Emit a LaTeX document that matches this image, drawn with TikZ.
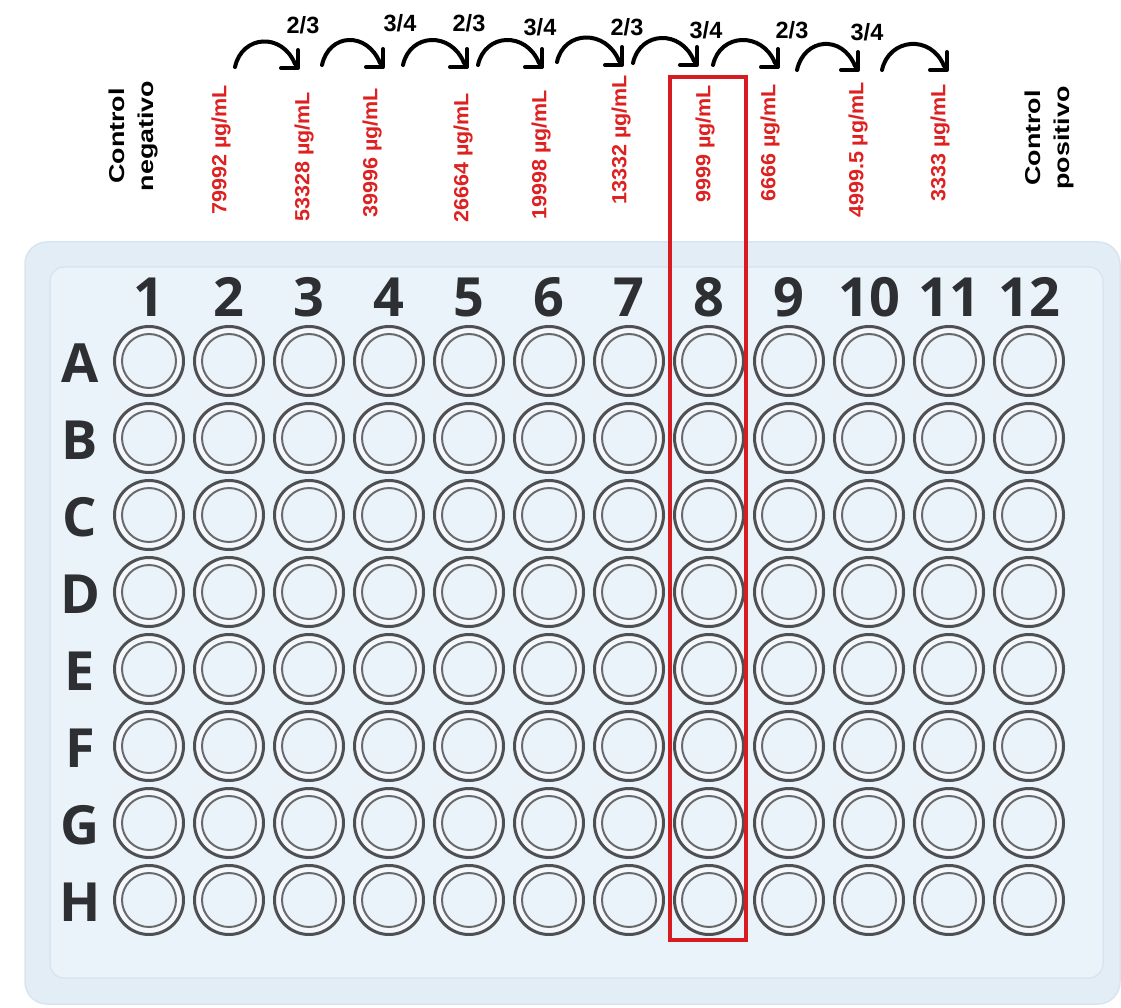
\documentclass[tikz,border=0pt]{standalone}
\usepackage{fontspec}
\setmainfont{Liberation Sans}
\newfontfamily\platefont{Open Sans}
\usetikzlibrary{calc}
\definecolor{plateouter}{RGB}{226,237,246}
\definecolor{plateinner}{RGB}{234,243,250}
\definecolor{plateedge}{RGB}{216,229,240}
\definecolor{wellring}{RGB}{78,80,82}
\definecolor{welllight}{RGB}{244,248,252}
\definecolor{labred}{RGB}{222,32,32}
\definecolor{boxred}{RGB}{214,28,32}
\definecolor{platetext}{RGB}{45,47,50}
\tikzset{
  wellout/.style={circle, draw=wellring, line width=3pt, fill=welllight, minimum size=69pt, inner sep=0pt},
  wellin/.style={draw=wellring!85, line width=2pt, fill=plateinner},
  platelab/.style={text=platetext, font=\platefont\bfseries\fontsize{54}{60}\selectfont, inner sep=0pt},
  conc/.style={rotate=90, anchor=west, text=labred, inner sep=0pt, font=\bfseries\fontsize{20.5}{21}\selectfont},
  frac/.style={text=black, inner sep=0pt, font=\bfseries\fontsize{23.5}{25}\selectfont},
  ctrl/.style={rotate=90, align=center, text=black, inner sep=0pt, font=\bfseries\fontsize{21.5}{29}\selectfont},
  dilarrow/.style={line width=4pt, line cap=round, line join=round},
  highlight/.style={draw=boxred, line width=4pt}
}
\begin{document}
\begin{tikzpicture}[x=1pt, y=-1pt]
\useasboundingbox (0,0) rectangle (1121,1008);
\fill[white] (0,0) rectangle (1121,1008);
% plate
\draw[fill=plateouter, draw=plateedge, line width=1.5pt, rounded corners=22pt] (25,242) rectangle (1120,1004);
\draw[fill=plateinner, draw=plateedge, line width=1.5pt, rounded corners=14pt] (50,267) rectangle (1103,978);
% column numbers
\foreach \c in {1,...,12} {
  \node[platelab] (col\c) at ({149+80*(\c-1)}, 297) {\c};
}
% rows and wells
\foreach \r [count=\ri] in {A,B,C,D,E,F,G,H} {
  \node[platelab] (row\r) at (80, {363+77*(\ri-1)}) {\r};
  \foreach \c in {1,...,12} {
    \node[wellout] (w\r\c) at ({149+80*(\c-1)}, {361+77*(\ri-1)}) {};
    \draw[wellin] (w\r\c.center) circle[radius=27pt];
  }
}
% highlight of column 8
\draw[highlight] (670,77) rectangle (746,940);
% concentration labels
\node[conc] (c2)  at (221,215) {\scalebox{1.05}[1]{79992 µg/mL}};
\node[conc] (c3)  at (304,222) {\scalebox{1.05}[1]{53328 µg/mL}};
\node[conc] (c4)  at (372,218) {\scalebox{1.05}[1]{39996 µg/mL}};
\node[conc] (c5)  at (463,223) {\scalebox{1.05}[1]{26664 µg/mL}};
\node[conc] (c6)  at (541,220) {\scalebox{1.05}[1]{19998 µg/mL}};
\node[conc] (c7)  at (621,205) {\scalebox{1.05}[1]{13332 µg/mL}};
\node[conc] (c8)  at (705,203) {\scalebox{1.05}[1]{9999 µg/mL}};
\node[conc] (c9)  at (770,202) {\scalebox{1.05}[1]{6666 µg/mL}};
\node[conc] (c10) at (858,218) {\scalebox{1.05}[1]{4999.5 µg/mL}};
\node[conc] (c11) at (940,202) {\scalebox{1.05}[1]{3333 µg/mL}};
% controls
\node[ctrl] (neg) at (133,136) {\scalebox{1.25}[1]{Control}\\\scalebox{1.25}[1]{negativo}};
\node[ctrl] (pos) at (1049,138) {\scalebox{1.25}[1]{Control}\\\scalebox{1.25}[1]{positivo}};
% fractions
\node[frac] (f1) at (303,25) {2/3};
\node[frac] (f2) at (400,23) {3/4};
\node[frac] (f3) at (469,23) {2/3};
\node[frac] (f4) at (540,27) {3/4};
\node[frac] (f5) at (627,27) {2/3};
\node[frac] (f6) at (706,30) {3/4};
\node[frac] (f7) at (792,30) {2/3};
\node[frac] (f8) at (867,32) {3/4};
% arrows
\foreach \i/\sx/\sy/\tx/\ty in {1/235/67/298/68, 2/322/65/383/67, 3/403/65/467/67, 4/478/65/542/67, 5/557/62/622/65, 6/633/63/697/65, 7/713/65/778/67, 8/797/70/858/70, 9/882/70/947/70} {
  \coordinate (as\i) at (\sx,\sy);
  \coordinate (ae\i) at (\tx,\ty);
  \draw[dilarrow] (as\i) .. controls ($(as\i)+(7,-32)$) and ($(ae\i)+(-16,-36)$) .. ($(ae\i)+(-3,-4)$);
  \draw[dilarrow] ($(ae\i)+(-17,0)$) -- (ae\i) -- ($(ae\i)+(0,-18)$);
}
\end{tikzpicture}
\end{document}
